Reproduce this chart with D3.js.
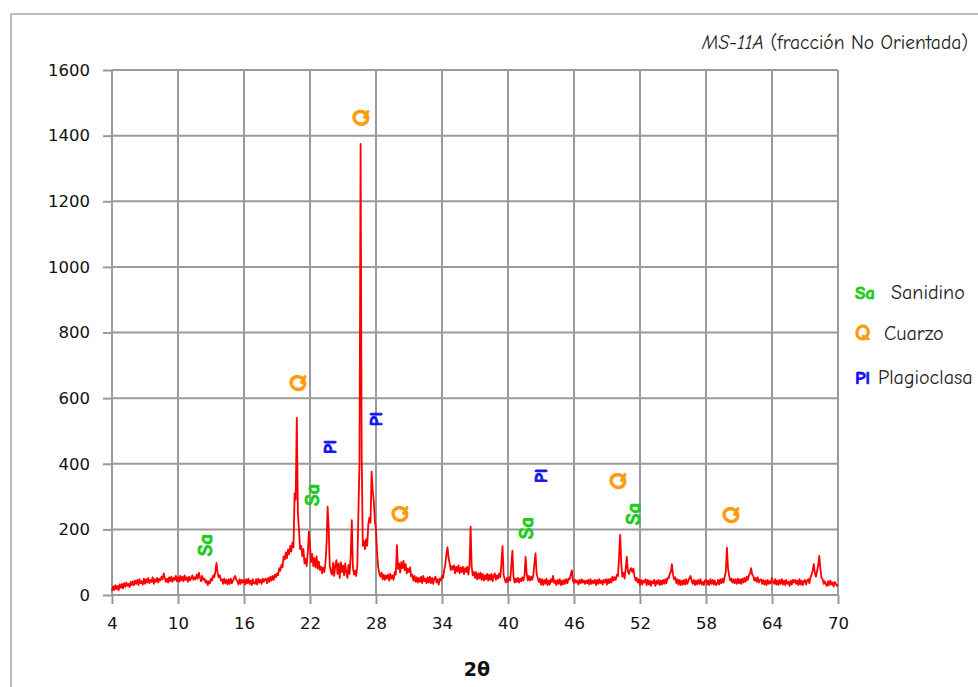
<!DOCTYPE html>
<html>
<head>
<meta charset="utf-8">
<script src="https://cdn.jsdelivr.net/npm/d3@7/dist/d3.min.js"></script>
<style>
  html, body { margin: 0; padding: 0; background: #fff; }
  svg { display: block; }
</style>
</head>
<body>
<script>
// Diffractogram MS-11A, unoriented fraction: intensity (counts) vs 2θ, 0.1° step from 4° to 70°
const scanStart = 4;
const scanStep = 0.1;
const intensity = [
  12,26,15,30,18,28,14,32,22,34,           // 4
  20,36,25,38,28,34,24,40,30,42,           // 5
  30,44,34,46,30,48,36,42,32,50,           // 6
  34,48,38,52,36,46,40,54,34,48,           // 7
  40,52,38,50,44,56,48,66,52,40,           // 8
  50,38,54,42,56,40,52,46,58,42,           // 9
  54,40,58,44,56,42,60,46,54,40,           // 10
  56,44,52,60,46,54,48,62,50,68,           // 11
  54,42,58,46,50,38,44,30,42,36,           // 12
  50,44,60,54,72,98,68,54,60,44,           // 13
  48,34,50,36,46,32,48,34,50,36,           // 14
  44,52,58,46,42,32,48,34,46,38,           // 15
  46,32,48,36,50,34,44,30,48,36,           // 16
  34,48,32,50,38,46,34,50,40,48,           // 17
  50,36,52,40,56,44,58,46,62,54,           // 18
  66,60,82,74,92,84,118,108,130,112,       // 19
  138,124,150,132,160,145,310,290,540,250, // 20
  198,140,150,118,140,96,110,88,130,193,   // 21
  150,100,125,88,112,84,118,80,102,76,     // 22
  86,66,84,70,96,150,269,200,88,72,        // 23
  62,98,58,90,106,64,96,52,100,70,         // 24
  90,60,96,68,52,92,64,120,228,84,         // 25
  62,74,58,86,250,400,1375,420,150,165,    // 26
  140,170,150,215,236,220,376,320,285,225, // 27
  200,128,84,66,56,68,48,62,46,60,         // 28
  50,62,44,64,50,60,46,70,62,152,          // 29
  80,96,68,100,82,104,76,94,66,80,         // 30
  70,84,56,62,44,58,40,54,38,52,           // 31
  40,56,36,58,42,50,36,54,38,56,           // 32
  36,52,34,50,56,38,48,32,50,44,           // 33
  58,52,76,92,124,146,112,96,76,88,        // 34
  78,90,66,86,72,90,66,84,70,86,           // 35
  64,82,70,86,62,90,208,86,60,70,          // 36
  52,70,48,66,50,68,46,64,44,60,           // 37
  48,64,44,62,46,64,42,58,66,46,           // 38
  60,50,66,54,95,149,62,48,38,52,          // 39
  40,54,44,90,135,56,38,50,40,52,          // 40
  38,50,42,54,44,60,116,64,44,58,          // 41
  44,56,46,60,95,127,66,52,40,50,          // 42
  32,48,30,46,34,50,30,44,32,48,           // 43
  40,58,36,44,30,46,34,48,30,44,           // 44
  32,46,34,48,36,50,48,62,75,44,           // 45
  36,46,38,44,32,46,36,48,38,44,           // 46
  34,44,36,46,32,48,34,44,36,46,           // 47
  30,46,34,48,36,44,32,46,38,48,           // 48
  32,48,36,50,38,56,44,54,46,62,           // 49
  58,120,183,95,56,68,50,80,116,72,        // 50
  64,76,82,70,80,58,44,52,38,48,           // 51
  30,46,32,44,38,48,30,46,32,44,           // 52
  28,42,36,46,28,44,34,46,30,44,           // 53
  32,46,34,48,36,52,50,64,70,94,           // 54
  62,48,54,36,48,32,46,30,44,32,           // 55
  46,32,48,34,44,52,58,42,34,46,           // 56
  30,44,32,46,34,48,32,40,30,44,           // 57
  46,32,44,30,48,34,46,32,44,30,           // 58
  34,46,32,48,36,50,38,56,70,144,          // 59
  82,60,44,50,38,48,36,48,34,50,           // 60
  36,48,34,50,38,52,40,56,46,60,           // 61
  66,82,62,58,44,52,40,54,38,46,           // 62
  48,34,46,32,44,30,46,34,42,36,           // 63
  52,40,34,48,32,44,30,46,34,48,           // 64
  32,44,30,46,34,40,28,44,32,46,           // 65
  38,46,34,44,30,48,32,44,30,42,           // 66
  46,32,44,48,36,54,62,75,94,66,           // 67
  56,74,90,119,80,52,48,34,42,32,          // 68
  28,42,30,44,32,38,26,40,34,28,           // 69
  32                                       // 70
];

const xTicks = [4, 10, 16, 22, 28, 34, 40, 46, 52, 58, 64, 70];
const yTicks = [0, 200, 400, 600, 800, 1000, 1200, 1400, 1600];

// Phase identification marks: phase code, 2θ, intensity level of the mark
const peakPhase = ["Sa", "Q", "Sa", "Pl", "Q", "Pl", "Q", "Sa", "Pl", "Q", "Sa", "Q"];
const peakAngle = [12.36, 20.8, 22.1, 23.8, 26.55, 28.0, 30.1, 41.55, 43.0, 49.9, 51.3, 60.2];
const peakLevel = [152, 646, 305, 451, 1454, 536, 247, 204, 363, 347, 247, 244];

const legendCodes = ["Sa", "Q", "Pl"];
const legendNames = ["Sanidino", "Cuarzo", "Plagioclasa"];

const titleSample = "MS-11A";
const titleRest = " (fracción No Orientada)";
const xTitle = "2θ";

const phaseColor = { Sa: "#1ccc1c", Q: "#ff9a0a", Pl: "#1414ee" };
const phaseSize = { Sa: 21, Q: 25, Pl: 18 };

const W = 978, H = 687;
const margin = { left: 112, right: 140, top: 70, bottom: 92 };
const handFont = '"Comic Sans MS", "Comic Neue", "Open Sans", sans-serif';
const axisFont = 'Verdana, "DejaVu Sans", sans-serif';

const svg = d3.select("body").append("svg")
  .attr("width", W).attr("height", H);

// Chart frame
svg.append("rect")
  .attr("x", 11).attr("y", 14)
  .attr("width", 1000).attr("height", 700)
  .attr("fill", "none").attr("stroke", "#a8a8a8").attr("stroke-width", 1.5);

const x = d3.scaleLinear().domain([4, 70]).range([margin.left, W - margin.right]);
const y = d3.scaleLinear().domain([0, 1600]).range([H - margin.bottom, margin.top]);

// Grid
const grid = svg.append("g").attr("stroke", "#9a9a9a").attr("stroke-width", 2);
grid.selectAll("line.h").data(yTicks).join("line")
  .attr("x1", x(4)).attr("x2", x(70))
  .attr("y1", d => y(d)).attr("y2", d => y(d));
grid.selectAll("line.v").data(xTicks).join("line")
  .attr("x1", d => x(d)).attr("x2", d => x(d))
  .attr("y1", y(0)).attr("y2", y(1600));

// Axes
const xAxis = svg.append("g")
  .attr("transform", `translate(0,${y(0)})`)
  .call(d3.axisBottom(x).tickValues(xTicks).tickFormat(d3.format("d"))
    .tickSize(9).tickSizeOuter(0).tickPadding(13));
const yAxis = svg.append("g")
  .attr("transform", `translate(${x(4)},0)`)
  .call(d3.axisLeft(y).tickValues(yTicks).tickFormat(d3.format("d"))
    .tickSize(9).tickSizeOuter(0).tickPadding(13));
[xAxis, yAxis].forEach(g => {
  g.select(".domain").remove();
  g.selectAll(".tick line").attr("stroke", "#9a9a9a").attr("stroke-width", 2);
  g.selectAll(".tick text").attr("fill", "#111").attr("font-size", 16.5)
    .attr("font-family", axisFont);
});

svg.append("text")
  .attr("x", x(37) + 2).attr("y", 676)
  .attr("text-anchor", "middle")
  .attr("font-family", axisFont)
  .attr("font-weight", "bold").attr("font-size", 19)
  .attr("fill", "#111").text(xTitle);

// Diffraction trace
const points = intensity.map((v, i) => [scanStart + i * scanStep, v]);
svg.append("path")
  .datum(points)
  .attr("fill", "none").attr("stroke", "#ff0000")
  .attr("stroke-width", 1.8).attr("stroke-linejoin", "round")
  .attr("d", d3.line().x(d => x(d[0])).y(d => y(d[1])));

// Phase marks, written upward
svg.append("g").selectAll("text").data(peakPhase).join("text")
  .attr("transform", (d, i) => `translate(${x(peakAngle[i])},${y(peakLevel[i])}) rotate(-90)`)
  .attr("text-anchor", "middle").attr("dy", "0.36em")
  .attr("font-family", handFont).attr("font-weight", "bold")
  .attr("font-size", d => phaseSize[d])
  .attr("fill", d => phaseColor[d])
  .attr("stroke", d => phaseColor[d]).attr("stroke-width", 0.9)
  .text(d => d);

// Title
const title = svg.append("text")
  .attr("x", 702).attr("y", 49)
  .attr("font-family", handFont).attr("font-size", 19.5).attr("fill", "#222");
title.append("tspan").attr("font-style", "italic").text(titleSample);
title.append("tspan").text(titleRest);

// Legend
const legend = svg.append("g");
const legendY = [299, 340, 384];
const nameX = [891, 884, 878];
legend.selectAll("text.code").data(legendCodes).join("text")
  .attr("x", 855).attr("y", (d, i) => legendY[i])
  .attr("font-family", handFont).attr("font-weight", "bold")
  .attr("font-size", d => d === "Q" ? 22 : 19)
  .attr("fill", d => phaseColor[d])
  .attr("stroke", d => phaseColor[d]).attr("stroke-width", 0.8)
  .text(d => d);
legend.selectAll("text.name").data(legendNames).join("text")
  .attr("x", (d, i) => nameX[i]).attr("y", (d, i) => legendY[i])
  .attr("font-family", handFont).attr("font-size", 20)
  .attr("fill", "#222").text(d => d);
</script>
</body>
</html>
